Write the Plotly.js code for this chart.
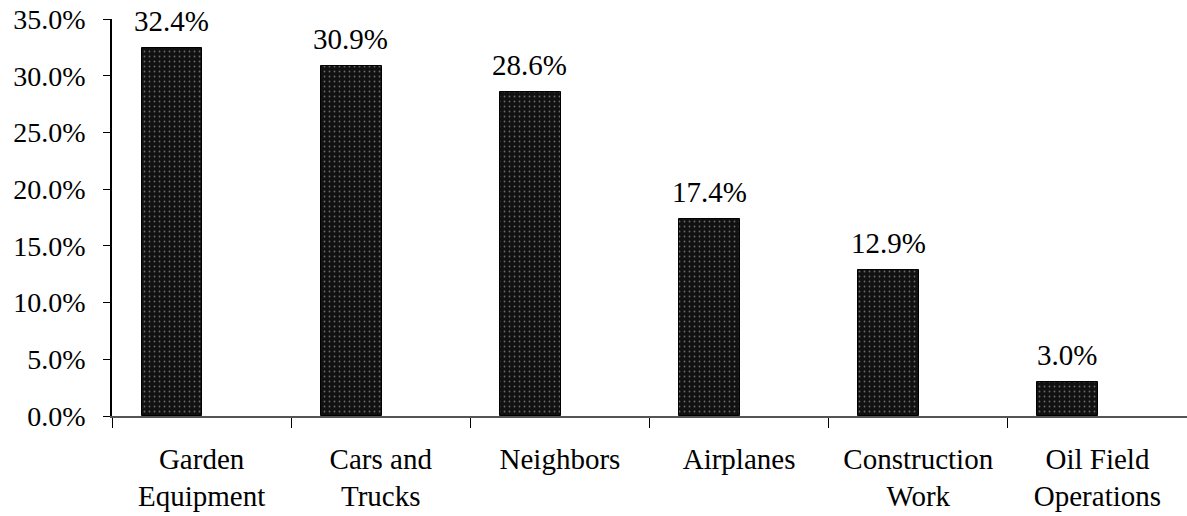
<!DOCTYPE html>
<html>
<head>
<meta charset="utf-8">
<script src="https://cdn.plot.ly/plotly-3.0.1.min.js"></script>
<style>
  html, body { margin: 0; padding: 0; background: #fff; }
  #chart { width: 1187px; height: 516px; }
</style>
</head>
<body>
<div id="chart"></div>
<script>
const categories = ["Garden<br>Equipment", "Cars and<br>Trucks", "Neighbors", "Airplanes", "Construction<br>Work", "Oil Field<br>Operations"];
const values = [32.4, 30.9, 28.6, 17.4, 12.9, 3.0];
const valueLabels = ["32.4%", "30.9%", "28.6%", "17.4%", "12.9%", "3.0%"];
const yTickVals = [0, 5, 10, 15, 20, 25, 30, 35];
const yTickText = ["0.0%", "5.0%", "10.0%", "15.0%", "20.0%", "25.0%", "30.0%", "35.0%"];

const FONT_FAMILY = "Liberation Serif";

const trace = {
  type: "bar",
  x: categories,
  y: values,
  width: 0.34,
  offset: -0.335,
  marker: {
    color: "#111111",
    line: { color: "#000000", width: 1 },
    pattern: { shape: ".", fgcolor: "#6a6a6a", bgcolor: "#111111", size: 5, solidity: 0.1 }
  },
  hoverinfo: "skip",
  showlegend: false
};

const annotations = categories.map((c, i) => ({
  x: c, y: values[i], xref: "x", yref: "y", text: valueLabels[i], showarrow: false,
  xanchor: "center", yanchor: "bottom", xshift: -30, yshift: 9,
  font: { family: FONT_FAMILY, size: 29, color: "#000" }
}));

const layout = {
  width: 1187, height: 516,
  margin: { l: 112, r: 0, t: 19, b: 100 },
  paper_bgcolor: "#ffffff",
  plot_bgcolor: "#ffffff",
  font: { family: FONT_FAMILY, size: 28, color: "#000" },
  bargap: 0,
  xaxis: {
    type: "category", tickson: "boundaries", ticks: "outside", ticklen: 10,
    tickcolor: "#000", tickwidth: 1,
    showline: true, linecolor: "#555", linewidth: 1.5,
    showgrid: false, zeroline: false, ticklabelstandoff: 16,
    tickfont: { family: FONT_FAMILY, size: 29, color: "#000" },
    range: [-0.5, 5.5]
  },
  yaxis: {
    range: [0, 35], tickvals: yTickVals, ticktext: yTickText,
    ticks: "outside", ticklen: 7, tickcolor: "#000", tickwidth: 1,
    showline: true, linecolor: "#000", linewidth: 1.5,
    showgrid: false, zeroline: false, ticklabelstandoff: 12,
    tickfont: { family: FONT_FAMILY, size: 28, color: "#000" }
  },
  annotations: annotations
};

Plotly.newPlot("chart", [trace], layout, { displayModeBar: false });
</script>
</body>
</html>
